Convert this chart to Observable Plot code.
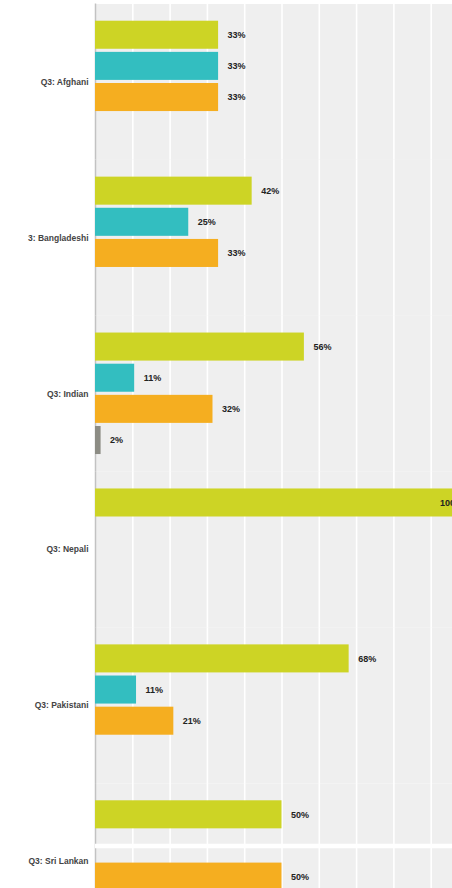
<!DOCTYPE html>
<html><head><meta charset="utf-8">
<script src="https://cdn.jsdelivr.net/npm/d3@7"></script>
<script src="https://cdn.jsdelivr.net/npm/@observablehq/plot@0.6"></script>
<style>html,body{margin:0;padding:0;overflow:hidden;background:#fff}
#chart svg{max-width:none !important;width:468px !important;height:939px !important}</style>
</head><body><div id="chart"></div>
<script>
const groups = ["Q3: Afghani","3: Bangladeshi","Q3: Indian","Q3: Nepali","Q3: Pakistani","Q3: Sri Lankan"];
const seriesNames = ["Option 1","Option 2","Option 3","Option 4"];
const series1 = [33, 42, 56, 100, 68, 50];
const series2 = [33, 25, 10.5, null, 11, null];
const series3 = [33, 33, 31.5, null, 21, 50];
const series4 = [null, null, 1.5, null, null, null];
const gridTicks = [10, 20, 30, 40, 50, 60, 70, 80, 90, 100];
const colors = ["#cdd425", "#33bec0", "#f5ae20", "#8c8c84"];
// white seam that crosses the last panel in the reference image
const seams = [{group: "Q3: Sri Lankan", series: "Option 2"}];

const rows = [];
[series1, series2, series3, series4].forEach((vals, i) => vals.forEach((v, j) => {
  if (v != null) rows.push({group: groups[j], series: seriesNames[i], value: v});
}));

const chart = Plot.plot({
  width: 468, height: 939,
  marginLeft: 95, marginRight: 0, marginTop: 3.5, marginBottom: 0,
  style: {fontFamily: "'Liberation Sans', Arial, sans-serif", background: "transparent", color: "#444", fontSize: "8.5px", fontWeight: "bold"},
  x: {domain: [0, 100], axis: null},
  y: {domain: seriesNames, axis: null, padding: 0.1, inset: 14.1, round: false},
  fy: {domain: groups, padding: 0, round: false, label: null, axis: "left", tickSize: 0, tickPadding: 7},
  color: {domain: seriesNames, range: colors},
  marks: [
    Plot.frame({fill: "#efefef", stroke: null}),
    Plot.gridX(gridTicks, {stroke: "white", strokeOpacity: 1, strokeWidth: 1.6}),
    Plot.ruleX([0], {stroke: "#c2c2c2", strokeWidth: 1.5}),
    Plot.barX(rows, {x: "value", y: "series", fy: "group", fill: "series"}),
    Plot.ruleY(seams, {y: "series", fy: "group", stroke: "white", strokeWidth: 4.5, dx: 0}),
    Plot.text(rows.filter(d => d.value < 90), {x: "value", y: "series", fy: "group", text: d => Math.round(d.value) + "%", dx: 9, textAnchor: "start", fill: "#222", fontSize: 9, fontWeight: "bold"}),
    Plot.text(rows.filter(d => d.value >= 90), {x: "value", y: "series", fy: "group", text: d => Math.round(d.value) + "%", dx: -28.5, textAnchor: "start", fill: "#222", fontSize: 9, fontWeight: "bold"})
  ]
});
document.getElementById("chart").appendChild(chart);
</script>
</body></html>
